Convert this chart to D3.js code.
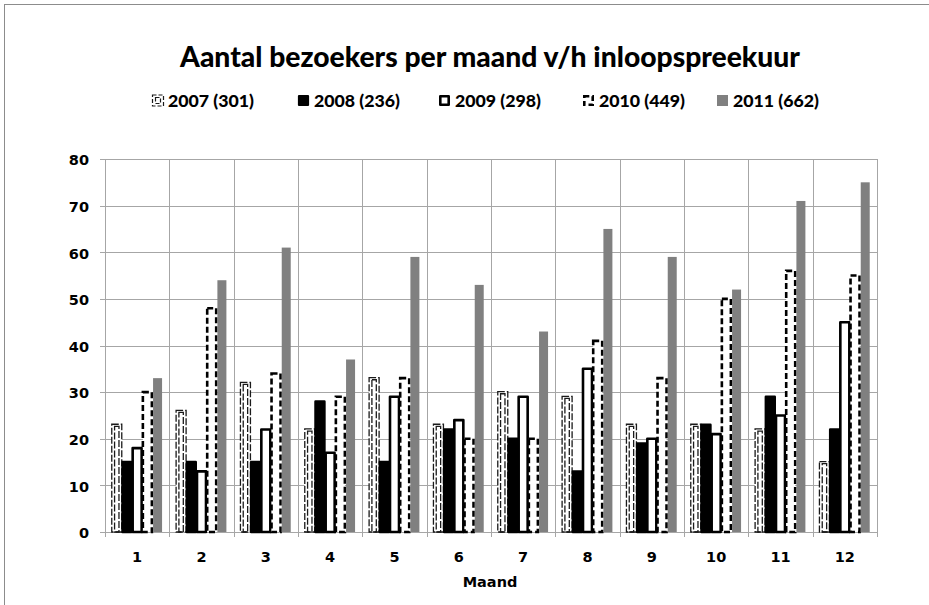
<!DOCTYPE html>
<html>
<head>
<meta charset="utf-8">
<script src="https://cdn.jsdelivr.net/npm/d3@7"></script>
<style>
  html, body { margin: 0; padding: 0; background: #fff; }
  svg { display: block; }
</style>
</head>
<body>
<svg id="chart" width="929" height="605"></svg>
<script>
// ---- data ----
const months = ["1","2","3","4","5","6","7","8","9","10","11","12"];
const seriesNames = ["2007 (301)","2008 (236)","2009 (298)","2010 (449)","2011 (662)"];
const v2007 = [23,26,32,22,33,23,30,29,23,23,22,15];
const v2008 = [15,15,15,28,15,22,20,13,19,23,29,22];
const v2009 = [18,13,22,17,29,24,29,35,20,21,25,45];
const v2010 = [30,48,34,29,33,20,20,41,33,50,56,55];
const v2011 = [33,54,61,37,59,53,43,65,59,52,71,75];
const yTicks = [0,10,20,30,40,50,60,70,80];
const titleText = "Aantal bezoekers per maand v/h inloopspreekuur";
const xTitle = "Maand";

const seriesValues = [v2007, v2008, v2009, v2010, v2011];

// ---- layout ----
const svg = d3.select("#chart");
const L = 105, R = 877, T = 159, B = 532;
const gridColor = "#a6a6a6";

// outer frame (top & left visible)
svg.append("rect").attr("x", 4.5).attr("y", 4.5).attr("width", 1000).attr("height", 1000)
  .attr("fill", "#fff").attr("stroke", "#8c8c8c").attr("stroke-width", 1);

const x = d3.scaleBand().domain(months).range([L, R]).paddingInner(0).paddingOuter(0);
const xs = d3.scaleBand().domain(seriesNames).range([0, x.bandwidth()]).paddingInner(0).paddingOuter(0.654);
const y = d3.scaleLinear().domain([0, 80]).range([B, T]);

// horizontal grid
svg.append("g").selectAll("line").data(yTicks).join("line")
  .attr("x1", L - 5).attr("x2", R)
  .attr("y1", d => Math.round(y(d)) + 0.5).attr("y2", d => Math.round(y(d)) + 0.5)
  .attr("stroke", gridColor).attr("stroke-width", 1);

// vertical grid at category boundaries
const bounds = months.map(m => x(m)).concat([R]);
svg.append("g").selectAll("line").data(bounds).join("line")
  .attr("x1", d => Math.round(d) + 0.5).attr("x2", d => Math.round(d) + 0.5)
  .attr("y1", T).attr("y2", B + 5)
  .attr("stroke", gridColor).attr("stroke-width", 1);

// y axis labels
const yAxis = d3.axisLeft(y).tickValues(yTicks).tickSize(0).tickPadding(16);
const gy = svg.append("g").attr("transform", `translate(${L},0)`).call(yAxis);
gy.select(".domain").remove();
gy.selectAll("text").attr("font-family", "DejaVu Sans").attr("font-weight", "bold")
  .attr("font-size", 14.5).attr("fill", "#000").attr("dy", "0.40em");

// x axis labels
const xAxis = d3.axisBottom(x).tickSize(0).tickPadding(20);
const gx = svg.append("g").attr("transform", `translate(0,${B})`).call(xAxis);
gx.select(".domain").remove();
gx.selectAll("text").attr("font-family", "DejaVu Sans").attr("font-weight", "bold")
  .attr("font-size", 14.5).attr("fill", "#000");

// ---- bars ----
const bw = xs.bandwidth();
function barG(i) {
  return svg.append("g").selectAll("g").data(months.map((m, k) => ({m, v: seriesValues[i][k]}))).join("g");
}
function cx(d, i) { return x(d.m) + xs(seriesNames[i]) + bw / 2; }

// 2007: thin double dashed outline
barG(0).each(function(d) {
  const g = d3.select(this);
  const c = cx(d, 0);
  const top = y(d.v);
  g.append("rect").attr("x", c - 5).attr("y", top - 0.5).attr("width", 10).attr("height", B - top + 0.5)
    .attr("fill", "#fff").attr("stroke", "#1a1a1a").attr("stroke-width", 1.3).attr("stroke-dasharray", "7,2");
  g.append("rect").attr("x", c - 2.2).attr("y", top + 1.6).attr("width", 4.4).attr("height", B - top - 1.6)
    .attr("fill", "none").attr("stroke", "#1a1a1a").attr("stroke-width", 1.3).attr("stroke-dasharray", "7,2");
});

// 2008: solid black
barG(1).append("rect")
  .attr("x", d => cx(d, 1) - 4.5).attr("y", d => y(d.v)).attr("width", 9).attr("height", d => B - y(d.v))
  .attr("fill", "#000").attr("stroke", "#000").attr("stroke-width", 2.4).attr("stroke-linejoin", "round");

// 2009: white, thick black outline
barG(2).append("rect")
  .attr("x", d => cx(d, 2) - 4.5).attr("y", d => y(d.v)).attr("width", 9).attr("height", d => B - y(d.v))
  .attr("fill", "#fff").attr("stroke", "#000").attr("stroke-width", 2.6).attr("stroke-linejoin", "round");

// 2010: white, thick dashed outline
barG(3).append("rect")
  .attr("x", d => cx(d, 3) - 4.5).attr("y", d => y(d.v)).attr("width", 9).attr("height", d => B - y(d.v))
  .attr("fill", "#fff").attr("stroke", "#000").attr("stroke-width", 2.6).attr("stroke-dasharray", "6,3");

// 2011: solid gray
barG(4).append("rect")
  .attr("x", d => cx(d, 4) - 4.5).attr("y", d => y(d.v)).attr("width", 9).attr("height", d => B - y(d.v))
  .attr("fill", "#808080");

// ---- title ----
function fit(sel, target) {
  const w = sel.node().getComputedTextLength();
  const fs = parseFloat(sel.attr("font-size"));
  sel.attr("font-size", fs * target / w);
}
const title = svg.append("text").attr("x", 490).attr("y", 67).attr("text-anchor", "middle")
  .attr("font-family", "Lato").attr("font-weight", 900).attr("font-size", 26).attr("fill", "#000")
  .text(titleText);
fit(title, 620);

// x-axis title
svg.append("text").attr("x", 490).attr("y", 587).attr("text-anchor", "middle")
  .attr("font-family", "DejaVu Sans").attr("font-weight", "bold").attr("font-size", 14.5).attr("fill", "#000")
  .text(xTitle);

// ---- legend ----
const legX = [152, 298, 439, 583, 717];
const leg = svg.append("g");
seriesNames.forEach((name, i) => {
  const gx0 = legX[i];
  const g = leg.append("g");
  const iy = 95, is = 11;
  if (i === 0) {
    g.append("rect").attr("x", gx0 + 0.5).attr("y", iy).attr("width", is).attr("height", is)
      .attr("fill", "#fff").attr("stroke", "#1a1a1a").attr("stroke-width", 1.2).attr("stroke-dasharray", "4,2");
    g.append("rect").attr("x", gx0 + 3.5).attr("y", iy + 2.5).attr("width", 5).attr("height", is - 5)
      .attr("fill", "none").attr("stroke", "#1a1a1a").attr("stroke-width", 1.2).attr("stroke-dasharray", "4,2");
  } else if (i === 1) {
    g.append("rect").attr("x", gx0 + 1).attr("y", iy + 1).attr("width", is - 2).attr("height", is - 2)
      .attr("fill", "#000").attr("stroke", "#000").attr("stroke-width", 2.2).attr("stroke-linejoin", "round");
  } else if (i === 2) {
    g.append("rect").attr("x", gx0 + 1.3).attr("y", iy + 1.3).attr("width", is - 2.6).attr("height", is - 2.6)
      .attr("fill", "#fff").attr("stroke", "#000").attr("stroke-width", 2.6).attr("stroke-linejoin", "round");
  } else if (i === 3) {
    g.append("rect").attr("x", gx0 + 1.3).attr("y", iy + 1.3).attr("width", is - 2.6).attr("height", is - 2.6)
      .attr("fill", "#fff").attr("stroke", "#000").attr("stroke-width", 2.6).attr("stroke-dasharray", "5,3");
  } else {
    g.append("rect").attr("x", gx0).attr("y", iy).attr("width", is).attr("height", is).attr("fill", "#808080");
  }
  const t = g.append("text").attr("x", gx0 + 16).attr("y", 107)
    .attr("font-family", "Lato").attr("font-weight", 900).attr("font-size", 17).attr("fill", "#000")
    .text(name);
  fit(t, 86);
});
</script>
</body>
</html>
